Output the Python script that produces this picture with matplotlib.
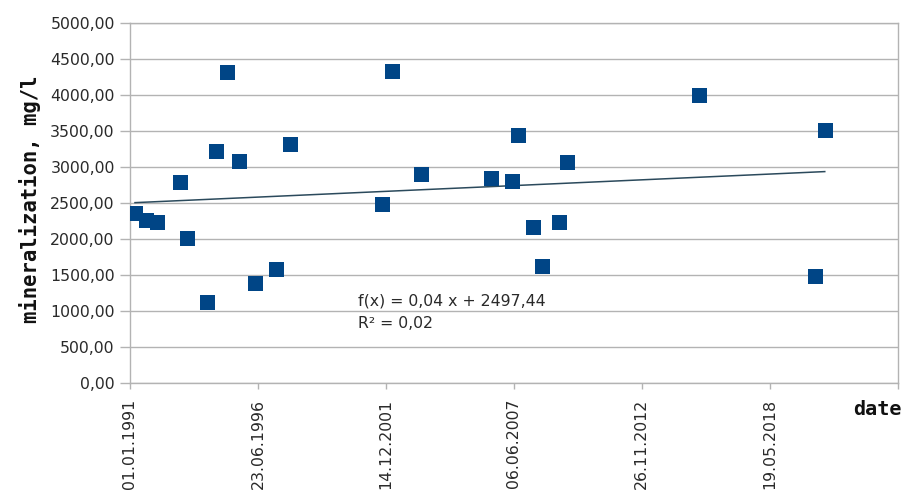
import matplotlib
matplotlib.use("Agg")
import matplotlib.pyplot as plt
import matplotlib.dates as mdates
from matplotlib.ticker import FuncFormatter, MultipleLocator, FixedLocator
import numpy as np
from datetime import datetime

# Sampling dates and measured mineralization (mg/l)
dates = [
    "1991-03-20", "1991-09-03", "1992-02-22", "1993-02-21", "1993-06-05",
    "1994-04-14", "1994-09-06", "1995-02-20", "1995-09-01", "1996-05-08",
    "1997-04-01", "1997-11-06", "2001-10-08", "2002-03-18", "2003-06-19",
    "2006-06-13", "2007-05-12", "2007-08-04", "2008-04-04", "2008-08-13",
    "2009-05-16", "2009-09-19", "2015-05-07", "2020-04-25", "2020-09-24",
]
mineralization = [
    2353, 2260, 2236, 2792, 2014,
    1125, 3222, 4311, 3079, 1389,
    1575, 3315, 2478, 4333, 2894,
    2847, 2801, 3444, 2158, 1625,
    2236, 3065, 3992, 1482, 3510,
]

# Linear trend (x = days since 01.01.1991)
trend_slope = 0.04
trend_intercept = 2497.44
trend_r2 = 0.02

origin = datetime(1991, 1, 1)
tick_step_days = 2000
n_steps = 6

dt = [datetime.strptime(d, "%Y-%m-%d") for d in dates]
x = mdates.date2num(dt)
x0 = mdates.date2num(origin)

fig = plt.figure(figsize=(9.04, 4.91), dpi=100)
ax = fig.add_axes([0.1438, 0.2206, 0.8493, 0.7332])

grid_c = "#b3b3b3"
ax.set_ylim(0, 5000)
ax.set_xlim(x0, x0 + tick_step_days * n_steps)
ax.yaxis.set_major_locator(MultipleLocator(500))
ax.yaxis.grid(True, color=grid_c, linewidth=1.0)
ax.set_axisbelow(True)

ax.xaxis.set_major_locator(FixedLocator([x0 + tick_step_days * i for i in range(n_steps + 1)]))
ax.xaxis.set_major_formatter(FuncFormatter(
    lambda v, p: "" if v >= x0 + tick_step_days * n_steps - 1 else mdates.num2date(v).strftime("%d.%m.%Y")))
ax.yaxis.set_major_formatter(FuncFormatter(lambda v, p: f"{v:.2f}".replace(".", ",")))

for s in ax.spines.values():
    s.set_color(grid_c)
    s.set_linewidth(1.0)

ax.tick_params(axis="y", length=7, width=1.0, color=grid_c, pad=4, labelsize=11.3, labelcolor="#2a2a2a")
ax.tick_params(axis="x", length=4.5, width=1.0, color=grid_c, pad=7, labelsize=11.3, labelcolor="#2a2a2a",
               labelrotation=90)
for lab in ax.get_xticklabels() + ax.get_yticklabels():
    lab.set_family("DejaVu Sans")

# Trend line across the observed period
xt = np.array([x.min(), x.max()])
yt = trend_slope * (xt - x0) + trend_intercept
ax.plot(xt, yt, color="#2b4a5c", linewidth=1.1, zorder=2)

ax.plot(x, mineralization, linestyle="none", marker="s", markersize=10.8,
        color="#004586", markeredgewidth=0, zorder=3)

ax.text(0.297, 0.227, f"f(x) = {trend_slope:.2f} x + {trend_intercept:.2f}".replace(".", ","),
        transform=ax.transAxes, fontsize=11.3, family="DejaVu Sans", color="#2a2a2a", va="center")
ax.text(0.297, 0.164, f"R² = {trend_r2:.2f}".replace(".", ","),
        transform=ax.transAxes, fontsize=11.3, family="DejaVu Sans", color="#2a2a2a", va="center")

fig.text(0.033, 0.5932, "mineralization, mg/l", rotation=90, ha="center", va="center",
         fontsize=14.8, family="DejaVu Sans Mono", fontweight="bold", color="#111111")
fig.text(0.9435, 0.165, "date", ha="left", va="center",
         fontsize=14.5, family="DejaVu Sans Mono", fontweight="bold", color="#111111")

fig.savefig("out.png", dpi=100)
